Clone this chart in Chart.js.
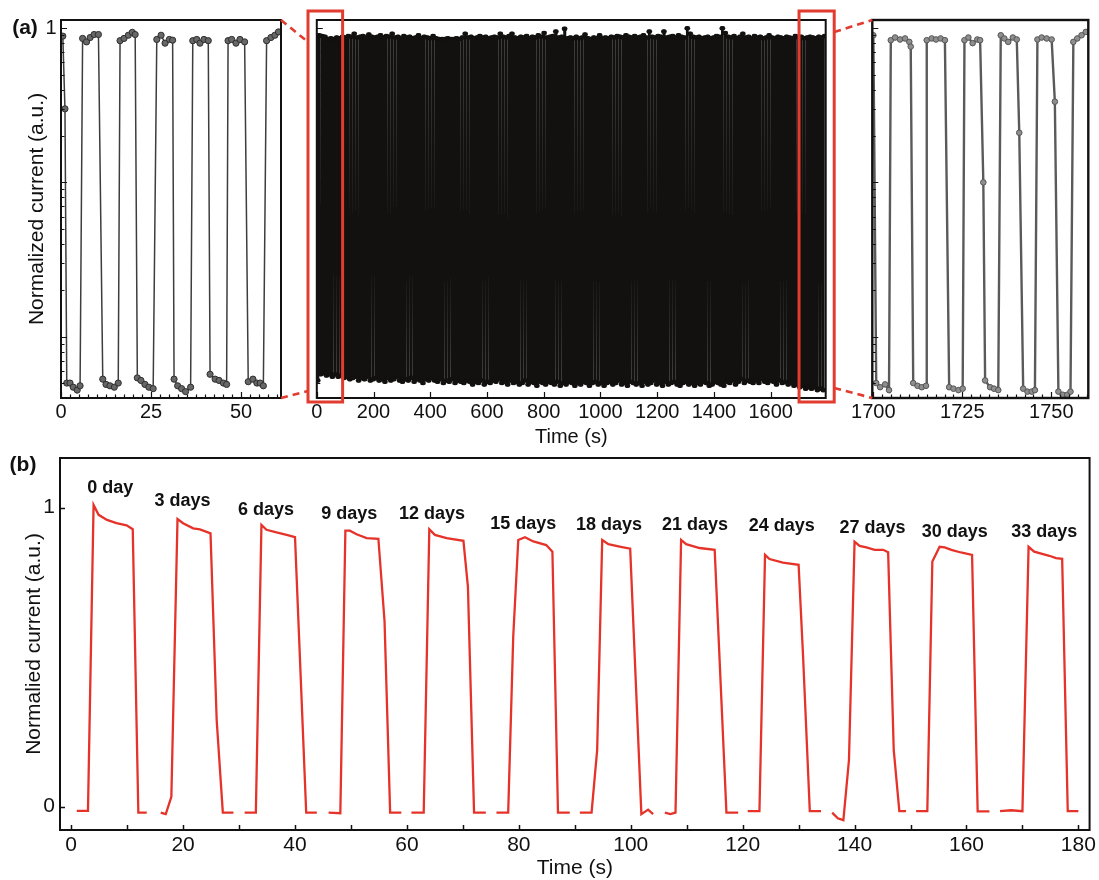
<!DOCTYPE html>
<html>
<head>
<meta charset="utf-8">
<script src="https://cdn.jsdelivr.net/npm/chart.js@4.4.1/dist/chart.umd.min.js"></script>
<style>
  body { margin: 0; background: #fff; width: 1099px; height: 880px; position: relative; overflow: hidden; }
  canvas { position: absolute; }
</style>
</head>
<body>
<canvas id="zoomStart" width="290" height="455" style="left:0;top:0"></canvas>
<canvas id="longRun" width="550" height="455" style="left:290px;top:0"></canvas>
<canvas id="zoomEnd" width="259" height="455" style="left:840px;top:0"></canvas>
<canvas id="aging" width="1099" height="440" style="left:0;top:440px"></canvas>
<canvas id="links" width="1099" height="440" style="left:0;top:0;pointer-events:none"></canvas>
<script>
const FONT = '"Liberation Sans", Arial, Helvetica, sans-serif'
Chart.defaults.font.family = FONT
Chart.defaults.color = '#111'
Chart.defaults.animation = false

// ---- (a) first minute of switching
const leftTime = [0.5, 1.1, 1.6, 2.5, 3.4, 4.5, 5.3,
    6.0, 7.1, 8.1, 9.2, 10.4, 11.6, 12.5, 13.6, 14.8, 15.9,
    16.4, 17.5, 18.7, 19.8, 20.6, 21.2, 22.2, 23.3, 24.4, 25.6,
    26.6, 27.8, 28.9, 30.1, 31.0, 31.4, 32.4, 33.5, 34.6, 36.0,
    36.6, 37.7, 38.6, 39.7, 40.9, 41.4, 42.8, 43.9, 45.1, 46.0,
    46.4, 47.4, 48.6, 49.7, 51.0, 52.0, 53.3, 54.4, 55.3, 56.2,
    57.1, 58.3, 59.4, 60.4]
const leftCurrent = [0.888, 0.30, 0.0050, 0.0050, 0.0047, 0.0045, 0.0048,
    0.858, 0.815, 0.870, 0.910, 0.910, 0.0053, 0.0049, 0.0048, 0.0047, 0.0050,
    0.830, 0.858, 0.900, 0.940, 0.910, 0.0054, 0.0052, 0.0049, 0.0047, 0.0046,
    0.845, 0.900, 0.800, 0.845, 0.836, 0.0053, 0.0048, 0.0046, 0.0044, 0.0047,
    0.830, 0.845, 0.800, 0.845, 0.830, 0.0057, 0.0053, 0.0052, 0.0050, 0.0049,
    0.830, 0.845, 0.800, 0.845, 0.815, 0.0051, 0.0053, 0.0050, 0.0050, 0.0048,
    0.830, 0.870, 0.900, 0.946]

// ---- (a) last minute of switching
const rightTime = [1700.0, 1700.8, 1701.9, 1703.3, 1704.4,
    1704.9, 1706.1, 1707.5, 1708.9, 1710.1, 1710.5, 1711.2, 1712.4, 1713.6, 1714.8,
    1715.0, 1716.4, 1717.6, 1718.9, 1720.1, 1721.3, 1722.5, 1723.9, 1725.1,
    1725.6, 1726.7, 1727.9, 1729.2, 1730.0, 1730.9, 1731.4, 1732.8, 1733.9, 1735.1,
    1735.8, 1736.8, 1737.9, 1739.2, 1740.3, 1741.0, 1742.1, 1743.3, 1744.5, 1745.4,
    1746.1, 1747.3, 1748.7, 1750.1, 1751.0, 1752.0, 1753.2, 1754.5, 1755.4,
    1756.2, 1757.3, 1758.5, 1759.7]
const rightCurrent = [0.900, 0.0050, 0.0047, 0.0049, 0.0045,
    0.836, 0.870, 0.845, 0.858, 0.815, 0.760, 0.0050, 0.0048, 0.0047, 0.0048,
    0.836, 0.858, 0.845, 0.858, 0.836, 0.0047, 0.0046, 0.0045, 0.0046,
    0.836, 0.870, 0.800, 0.845, 0.836, 0.100, 0.0052, 0.0047, 0.0046, 0.0045,
    0.900, 0.858, 0.815, 0.870, 0.845, 0.210, 0.0046, 0.0044, 0.0044, 0.0045,
    0.845, 0.870, 0.858, 0.845, 0.334, 0.0044, 0.0042, 0.0042, 0.0044,
    0.815, 0.858, 0.900, 0.946]

// ---- (a) full run: one on-level and one off-level per light cycle
const firstRise = 5.8
const cyclePeriod = 10.3
const longTop = [
    0.90, 0.89, 0.88, 0.85, 0.86, 0.85, 0.87, 0.86, 0.88, 0.87,
    0.89, 0.88, 0.92, 0.87, 0.88, 0.89, 0.87, 0.91, 0.88, 0.87,
    0.88, 0.90, 0.87, 0.89, 0.88, 0.92, 0.87, 0.88, 0.86, 0.89,
    0.87, 0.88, 0.86, 0.87, 0.90, 0.86, 0.88, 0.87, 0.86, 0.89,
    0.86, 0.85, 0.85, 0.85, 0.86, 0.85, 0.85, 0.86, 0.85, 0.87,
    0.92, 0.87, 0.88, 0.86, 0.87, 0.89, 0.87, 0.88, 0.86, 0.87,
    0.88, 0.87, 0.92, 0.88, 0.87, 0.89, 0.92, 0.87, 0.86, 0.88,
    0.87, 0.89, 0.86, 0.88, 0.87, 0.90, 0.88, 0.93, 0.87, 0.88,
    0.89, 0.95, 0.87, 0.88, 0.99, 0.86, 0.87, 0.86, 0.88, 0.86,
    0.87, 0.91, 0.86, 0.85, 0.87, 0.86, 0.90, 0.86, 0.87, 0.86,
    0.88, 0.87, 0.89, 0.88, 0.87, 0.90, 0.88, 0.87, 0.89, 0.87,
    0.88, 0.90, 0.87, 0.95, 0.88, 0.87, 0.89, 0.88, 0.95, 0.87,
    0.88, 0.89, 0.87, 0.90, 0.88, 0.87, 1.00, 0.92, 0.88, 0.87,
    0.88, 0.86, 0.87, 0.88, 0.86, 0.87, 0.89, 0.88, 1.00, 0.93,
    0.88, 0.87, 0.89, 0.86, 0.88, 0.92, 0.87, 0.88, 0.86, 0.89,
    0.87, 0.88, 0.86, 0.87, 0.90, 0.87, 0.86, 0.88, 0.87, 0.86,
    0.88, 0.87, 0.86, 0.89, 0.87, 0.88, 0.86, 0.87, 0.88, 0.87,
    0.86, 0.88, 0.87, 0.89]
const longBase = [
    0.0052, 0.0057, 0.0058, 0.0056, 0.0057, 0.0055, 0.0057, 0.0055, 0.0056, 0.0054,
    0.0055, 0.0053, 0.0054, 0.0055, 0.0052, 0.0054, 0.0053, 0.0055, 0.0052, 0.0053,
    0.0054, 0.0052, 0.0053, 0.0051, 0.0054, 0.0052, 0.0053, 0.0055, 0.0052, 0.0051,
    0.0053, 0.0052, 0.0054, 0.0051, 0.0053, 0.0052, 0.0050, 0.0053, 0.0052, 0.0054,
    0.0052, 0.0051, 0.0053, 0.0050, 0.0052, 0.0051, 0.0053, 0.0050, 0.0052, 0.0051,
    0.0050, 0.0052, 0.0051, 0.0049, 0.0051, 0.0050, 0.0052, 0.0049, 0.0051, 0.0050,
    0.0052, 0.0051, 0.0053, 0.0050, 0.0051, 0.0049, 0.0052, 0.0050, 0.0051, 0.0049,
    0.0050, 0.0052, 0.0049, 0.0051, 0.0050, 0.0048, 0.0051, 0.0050, 0.0049, 0.0051,
    0.0050, 0.0049, 0.0051, 0.0048, 0.0050, 0.0049, 0.0051, 0.0050, 0.0048, 0.0050,
    0.0049, 0.0051, 0.0050, 0.0048, 0.0050, 0.0051, 0.0049, 0.0050, 0.0048, 0.0050,
    0.0051, 0.0049, 0.0050, 0.0052, 0.0049, 0.0050, 0.0048, 0.0051, 0.0050, 0.0049,
    0.0050, 0.0048, 0.0051, 0.0049, 0.0050, 0.0052, 0.0049, 0.0050, 0.0048, 0.0051,
    0.0049, 0.0050, 0.0051, 0.0049, 0.0048, 0.0050, 0.0051, 0.0049, 0.0050, 0.0048,
    0.0050, 0.0049, 0.0051, 0.0050, 0.0048, 0.0049, 0.0051, 0.0050, 0.0049, 0.0048,
    0.0051, 0.0050, 0.0052, 0.0049, 0.0051, 0.0053, 0.0050, 0.0052, 0.0051, 0.0050,
    0.0052, 0.0050, 0.0053, 0.0051, 0.0050, 0.0052, 0.0051, 0.0049, 0.0052, 0.0050,
    0.0051, 0.0049, 0.0050, 0.0048, 0.0049, 0.0047, 0.0048, 0.0046, 0.0047, 0.0046,
    0.0047, 0.0045, 0.0046, 0.0045]

// zoom windows marked on the full run (s)
const boxSpans = [[-31, 91], [1700, 1824]]

// ---- (b) on/off cycles measured every 3 days
const dayLabels = ['0 day', '3 days', '6 days', '9 days', '12 days', '15 days',
    '18 days', '21 days', '24 days', '27 days', '30 days', '33 days']
const dayLabelX = [7.0, 19.9, 34.8, 49.7, 64.5, 80.8, 96.1, 111.5, 127.0, 143.2, 157.9, 173.9]
const dayLabelY = [1.067, 1.022, 0.992, 0.979, 0.979, 0.945, 0.942, 0.942, 0.939, 0.931, 0.920, 0.920]
const dayTime = [
    [1.0, 3.0, 4.0, 4.9, 6.4, 8.1, 9.9, 11.0, 12.0, 13.5],
    [16.0, 16.9, 17.9, 19.0, 20.0, 21.8, 23.0, 24.9, 26.0, 27.1, 29.0],
    [31.0, 33.0, 34.0, 34.9, 36.7, 38.5, 40.0, 42.0, 43.9],
    [46.0, 48.1, 49.0, 49.8, 51.0, 52.8, 54.9, 56.0, 57.0, 59.0],
    [60.8, 63.0, 64.0, 65.0, 67.1, 70.1, 70.9, 72.0, 74.1],
    [76.0, 78.1, 79.0, 79.9, 81.1, 82.6, 84.9, 86.0, 87.0, 89.1],
    [90.9, 93.0, 94.0, 94.9, 96.0, 98.0, 99.9, 101.9, 103.1, 104.0],
    [106.1, 107.1, 108.0, 109.0, 109.9, 112.3, 115.0, 117.1, 119.2],
    [120.9, 123.0, 124.0, 124.8, 127.2, 130.0, 130.8, 132.0, 134.0],
    [136.0, 137.0, 138.0, 139.0, 140.0, 140.9, 142.1, 143.6, 145.1, 146.0, 147.0, 148.0, 149.2],
    [151.0, 153.0, 153.9, 155.2, 156.1, 157.3, 159.0, 161.0, 162.0, 164.1],
    [166.0, 168.0, 170.0, 171.1, 172.1, 174.8, 176.0, 177.1, 178.1, 180.0]
]
const dayCurrent = [
    [-0.014, -0.014, 1.009, 0.976, 0.959, 0.948, 0.941, 0.928, -0.020, -0.020],
    [-0.020, -0.025, 0.033, 0.962, 0.948, 0.931, 0.927, 0.914, 0.290, -0.020, -0.020],
    [-0.020, -0.020, 0.942, 0.926, 0.917, 0.909, 0.901, -0.020, -0.020],
    [-0.020, -0.022, 0.923, 0.923, 0.911, 0.898, 0.896, 0.620, -0.020, -0.020],
    [-0.020, -0.020, 0.928, 0.909, 0.898, 0.889, 0.736, -0.020, -0.020],
    [-0.020, -0.020, 0.569, 0.892, 0.901, 0.887, 0.875, 0.853, -0.020, -0.020],
    [-0.020, -0.020, 0.190, 0.892, 0.878, 0.870, 0.863, -0.025, -0.010, -0.025],
    [-0.020, -0.025, -0.020, 0.892, 0.878, 0.865, 0.859, -0.020, -0.020],
    [-0.015, -0.015, 0.842, 0.828, 0.816, 0.809, 0.502, -0.015, -0.015],
    [-0.020, -0.039, -0.045, 0.156, 0.886, 0.872, 0.867, 0.859, 0.859, 0.851, 0.190, -0.015, -0.015],
    [-0.015, -0.015, 0.820, 0.869, 0.867, 0.859, 0.850, 0.842, -0.016, -0.016],
    [-0.015, -0.012, -0.015, 0.869, 0.853, 0.839, 0.831, 0.829, -0.015, -0.015]
]

// axis ticks
const zoomStartTicks = [0, 25, 50]
const zoomStartMinor = [2.5, 5, 7.5, 10, 12.5, 15, 17.5, 20, 22.5, 27.5, 30, 32.5, 35, 37.5, 40, 42.5, 45, 47.5, 52.5, 55, 57.5, 60]
const zoomEndTicks = [1700, 1725, 1750]
const zoomEndMinor = [1702.5, 1705, 1707.5, 1710, 1712.5, 1715, 1717.5, 1720, 1722.5, 1727.5, 1730, 1732.5, 1735, 1737.5, 1740, 1742.5, 1745, 1747.5, 1752.5, 1755, 1757.5, 1760]
const longTicks = [0, 200, 400, 600, 800, 1000, 1200, 1400, 1600]
const logMajor = [0.01, 0.1, 1]
const logMinor = [0.004, 0.005, 0.006, 0.007, 0.008, 0.009, 0.02, 0.03, 0.04, 0.05, 0.06, 0.07, 0.08, 0.09,
    0.2, 0.3, 0.4, 0.5, 0.6, 0.7, 0.8, 0.9]
const logLabelled = [1]
const dayTicks = [0, 20, 40, 60, 80, 100, 120, 140, 160, 180]
const dayMinor = [10, 30, 50, 70, 90, 110, 130, 150, 170]
const dayYTicks = [0, 1]

// closed frame and inward tick marks
const frameTicks = {
    id: 'frameTicks',
    afterDatasetsDraw(chart, args, opts) {
        const { ctx, chartArea: a, scales: { x, y } } = chart
        ctx.save()
        ctx.strokeStyle = '#111'
        ctx.lineWidth = opts.tickWidth
        ctx.beginPath()
        const xt = (vals, len) => vals.forEach(v => {
            const p = Math.round(x.getPixelForValue(v)) + 0.5
            ctx.moveTo(p, a.bottom); ctx.lineTo(p, a.bottom - len)
        })
        const yt = (vals, len) => vals.forEach(v => {
            const p = Math.round(y.getPixelForValue(v)) + 0.5
            ctx.moveTo(a.left, p); ctx.lineTo(a.left + len, p)
        })
        xt(opts.xMajor || [], opts.major)
        xt(opts.xMinor || [], opts.minor)
        yt(opts.yMajor || [], opts.major)
        yt(opts.yMinor || [], opts.minor)
        ctx.stroke()
        ctx.lineWidth = opts.frameWidth
        ctx.strokeRect(a.left, a.top, a.right - a.left, a.bottom - a.top)
        ctx.restore()
    }
}

// panel letters
const panelTag = {
    id: 'panelTag',
    afterDraw(chart, args, opts) {
        if (!opts.text) return
        const ctx = chart.ctx
        ctx.save()
        ctx.font = 'bold 21px ' + FONT
        ctx.fillStyle = '#111'
        ctx.textAlign = 'center'
        ctx.textBaseline = 'middle'
        ctx.fillText(opts.text, opts.x, opts.y)
        ctx.restore()
    }
}

// ageing labels above each pulse
const dayTags = {
    id: 'dayTags',
    afterDatasetsDraw(chart) {
        const { ctx, scales: { x, y } } = chart
        ctx.save()
        ctx.font = 'bold 18px ' + FONT
        ctx.fillStyle = '#111'
        ctx.textAlign = 'center'
        ctx.textBaseline = 'middle'
        dayLabels.forEach((t, i) => ctx.fillText(t, x.getPixelForValue(dayLabelX[i]), y.getPixelForValue(dayLabelY[i])))
        ctx.restore()
    }
}

const setTicks = vals => scale => { scale.ticks = vals.map(v => ({ value: v })) }
const pts = (xs, ys) => xs.map((t, i) => ({ x: t, y: ys[i] }))

function logAxis(width, labelled, title) {
    return {
        type: 'logarithmic', min: 0.004, max: 1.13,
        grid: { display: false, drawTicks: false }, border: { display: false },
        afterBuildTicks: setTicks(labelled),
        afterFit: s => { s.width = width },
        ticks: { display: labelled.length > 0, padding: 4.5, font: { size: 20 }, callback: v => String(v) },
        title: title ? { display: true, text: title, font: { size: 21 }, padding: { top: 24.4, bottom: 0 } } : { display: false }
    }
}

function timeAxis(min, max, ticks, title) {
    return {
        type: 'linear', min: min, max: max,
        grid: { display: false, drawTicks: false }, border: { display: false },
        afterBuildTicks: setTicks(ticks),
        afterFit: s => { s.height = 57 },
        ticks: { autoSkip: false, maxRotation: 0, padding: 2.5, font: { size: 20 }, callback: v => String(v) },
        title: title ? { display: true, text: title, font: { size: 20 }, padding: { top: 0, bottom: 6 } } : { display: false }
    }
}

const quiet = { legend: { display: false }, tooltip: { enabled: false } }

const zoomStart = new Chart(document.getElementById('zoomStart'), {
    type: 'line',
    data: { datasets: [{
        data: pts(leftTime, leftCurrent),
        borderColor: '#3d3d3d', borderWidth: 1.5, tension: 0,
        pointRadius: 3.1, pointBackgroundColor: '#676767', pointBorderColor: '#2e2e2e', pointBorderWidth: 1
    }] },
    options: {
        responsive: false,
        layout: { autoPadding: false, padding: { left: 0, top: 20, right: 9, bottom: 0 } },
        scales: {
            x: timeAxis(0, 61.1, zoomStartTicks, null),
            y: logAxis(61, logLabelled, 'Normalized current (a.u.)')
        },
        plugins: {
            ...quiet,
            frameTicks: { xMajor: zoomStartTicks, xMinor: zoomStartMinor, yMajor: logMajor, yMinor: logMinor, major: 6, minor: 3.5, tickWidth: 1.2, frameWidth: 2 },
            panelTag: { text: '(a)', x: 25, y: 28 }
        }
    },
    plugins: [frameTicks, panelTag]
})

const longPoints = [{ x: leftTime[0], y: leftCurrent[0] }]
longTop.forEach((top, k) => {
    const rise = firstRise + k * cyclePeriod
    longPoints.push(
        { x: rise - 4.6, y: longBase[k] }, { x: rise - 0.4, y: longBase[k] },
        { x: rise + 0.4, y: top }, { x: rise + 4.6, y: top })
})

const longRun = new Chart(document.getElementById('longRun'), {
    type: 'line',
    data: { datasets: [{
        data: longPoints,
        borderColor: '#131110', borderWidth: 1.55, tension: 0,
        pointRadius: 2.3, pointBackgroundColor: '#131110', pointBorderWidth: 0
    }] },
    options: {
        responsive: false,
        layout: { autoPadding: false, padding: { left: 0, top: 20, right: 14.3, bottom: 0 } },
        scales: {
            x: timeAxis(0, 1794, longTicks, 'Time (s)'),
            y: logAxis(26.8, [], null)
        },
        plugins: {
            ...quiet,
            frameTicks: { xMajor: longTicks, yMajor: logMajor, yMinor: logMinor, major: 6, minor: 3.5, tickWidth: 1.2, frameWidth: 2 }
        }
    },
    plugins: [frameTicks]
})

const zoomEnd = new Chart(document.getElementById('zoomEnd'), {
    type: 'line',
    data: { datasets: [{
        data: pts(rightTime, rightCurrent),
        borderColor: '#5a5a5a', borderWidth: 2.4, tension: 0,
        pointRadius: 2.8, pointBackgroundColor: '#8e8e8e', pointBorderColor: '#555', pointBorderWidth: 1
    }] },
    options: {
        responsive: false,
        layout: { autoPadding: false, padding: { left: 0, top: 20, right: 10.7, bottom: 0 } },
        scales: {
            x: timeAxis(1699.7, 1760.4, zoomEndTicks, null),
            y: logAxis(32.3, [], null)
        },
        plugins: {
            ...quiet,
            frameTicks: { xMajor: zoomEndTicks, xMinor: zoomEndMinor, yMajor: logMajor, yMinor: logMinor, major: 6, minor: 3.5, tickWidth: 1.2, frameWidth: 2.4 }
        }
    },
    plugins: [frameTicks]
})

const aging = new Chart(document.getElementById('aging'), {
    type: 'line',
    data: { datasets: dayTime.map((xs, i) => ({
        data: pts(xs, dayCurrent[i]),
        borderColor: '#e5332a', borderWidth: 2.3, tension: 0, pointRadius: 0
    })) },
    options: {
        responsive: false,
        layout: { autoPadding: false, padding: { left: 0, top: 18, right: 9, bottom: 0 } },
        scales: {
            x: {
                type: 'linear', min: -2, max: 182,
                grid: { display: false, drawTicks: false }, border: { display: false },
                afterBuildTicks: setTicks(dayTicks),
                afterFit: s => { s.height = 50 },
                ticks: { autoSkip: false, maxRotation: 0, padding: 3, font: { size: 21 }, callback: v => String(v) },
                title: { display: true, text: 'Time (s)', font: { size: 21 }, padding: { top: 0, bottom: -1 } }
            },
            y: {
                type: 'linear', min: -0.078, max: 1.166,
                grid: { display: false, drawTicks: false }, border: { display: false },
                afterBuildTicks: setTicks(dayYTicks),
                afterFit: s => { s.width = 60 },
                ticks: { padding: 5, font: { size: 21 }, callback: v => String(v) },
                title: { display: true, text: 'Normalied current (a.u.)', font: { size: 21 }, padding: { top: 21.4, bottom: 0 } }
            }
        },
        plugins: {
            ...quiet,
            frameTicks: { xMajor: dayTicks, xMinor: dayMinor, yMajor: dayYTicks, major: 5, minor: 5, tickWidth: 1.5, frameWidth: 2 },
            panelTag: { text: '(b)', x: 23, y: 25.5 }
        }
    },
    plugins: [frameTicks, panelTag, dayTags]
})

// red boxes on the full run and dashed links to the zoomed views
function drawLinks() {
    const ctx = document.getElementById('links').getContext('2d')
    const off = c => c.canvas.offsetLeft
    const x = longRun.scales.x
    const mid = longRun.chartArea
    const boxes = boxSpans.map(([a, b]) => ({
        left: off(longRun) + x.getPixelForValue(a),
        right: off(longRun) + x.getPixelForValue(b),
        top: mid.top - 9,
        bottom: mid.bottom + 4
    }))
    const L = zoomStart.chartArea, R = zoomEnd.chartArea
    ctx.strokeStyle = '#e23b2f'
    ctx.lineWidth = 2.6
    ctx.setLineDash([7, 5])
    ctx.beginPath()
    ctx.moveTo(off(zoomStart) + L.right, L.top); ctx.lineTo(boxes[0].left, boxes[0].top + 31)
    ctx.moveTo(off(zoomStart) + L.right, L.bottom); ctx.lineTo(boxes[0].left, boxes[0].bottom - 11)
    ctx.moveTo(boxes[1].right, boxes[1].top + 21); ctx.lineTo(off(zoomEnd) + R.left, R.top)
    ctx.moveTo(boxes[1].right, boxes[1].bottom - 14); ctx.lineTo(off(zoomEnd) + R.left, R.bottom)
    ctx.stroke()
    ctx.setLineDash([])
    ctx.lineWidth = 3
    boxes.forEach(b => ctx.strokeRect(b.left, b.top, b.right - b.left, b.bottom - b.top))
}
drawLinks()
</script>
</body>
</html>
